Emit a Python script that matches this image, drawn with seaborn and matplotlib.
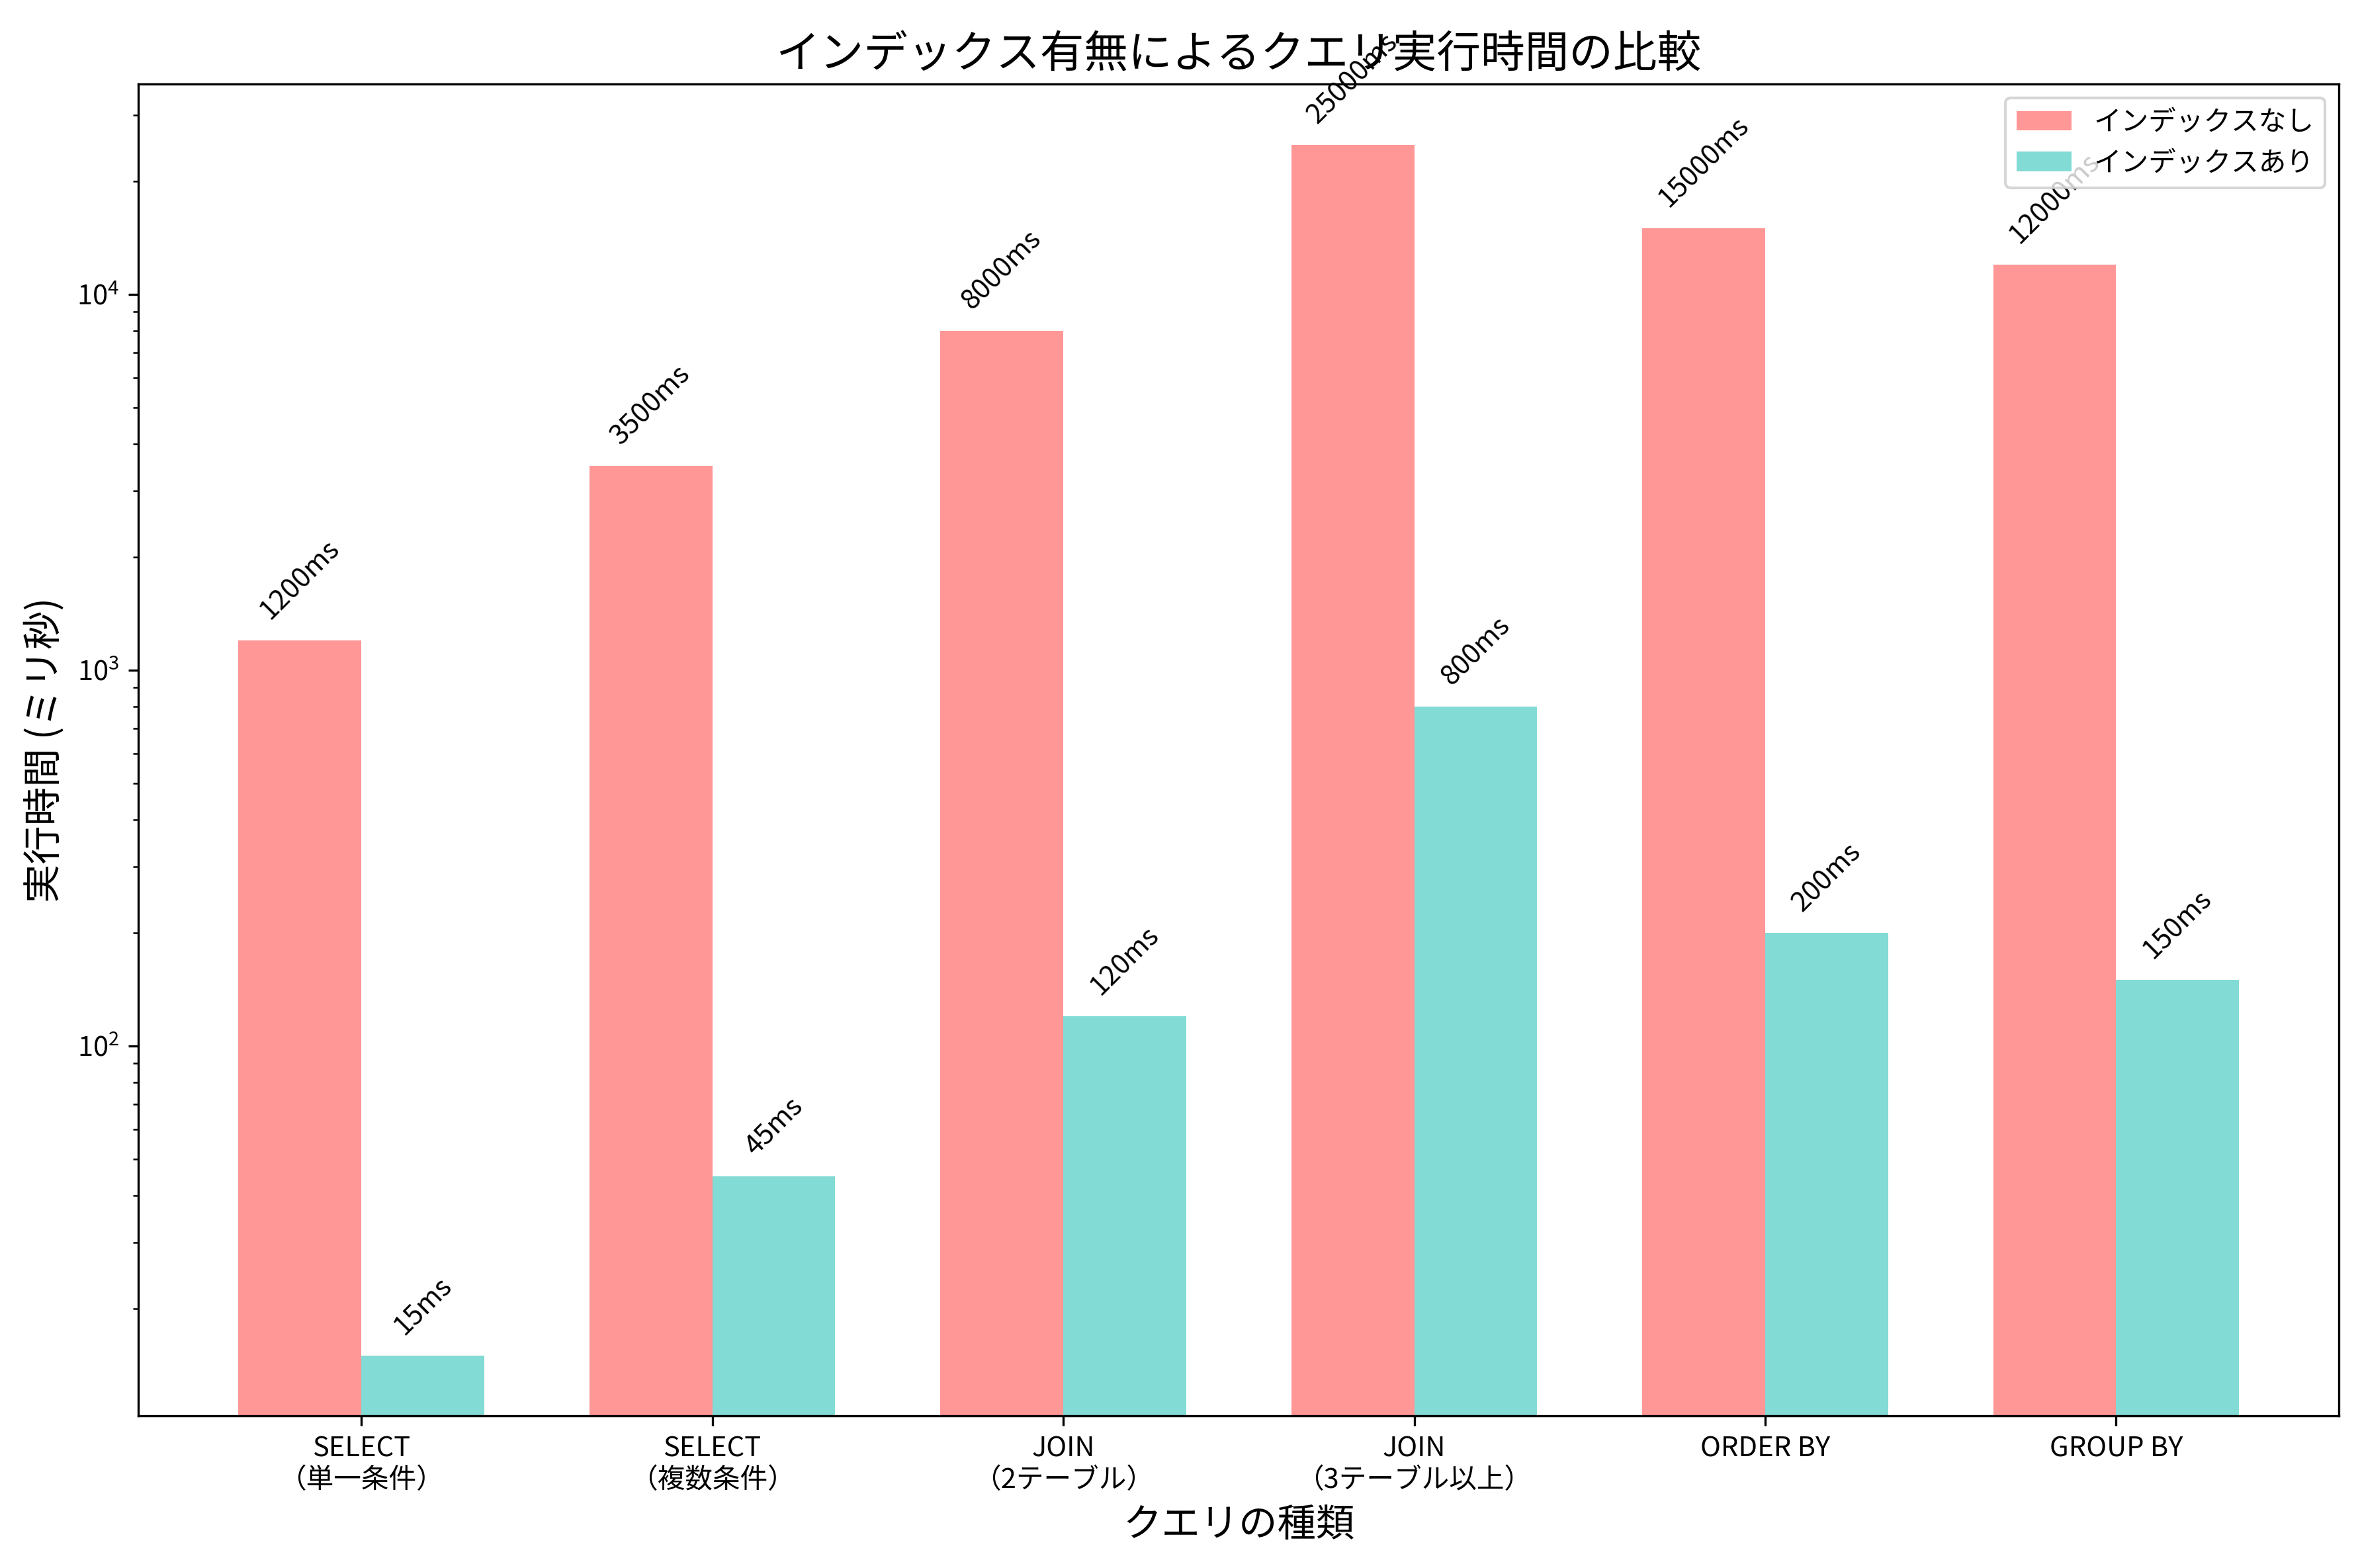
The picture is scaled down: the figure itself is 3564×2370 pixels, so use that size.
import matplotlib
matplotlib.use("Agg")
import matplotlib.pyplot as plt
import seaborn as sns
import pandas as pd

plt.rcParams['font.family'] = ['Noto Sans CJK JP', 'DejaVu Sans']

categories = ["SELECT\n（単一条件）", "SELECT\n（複数条件）", "JOIN\n（2テーブル）",
              "JOIN\n（3テーブル以上）", "ORDER BY", "GROUP BY"]
no_index = [1200, 3500, 8000, 25000, 15000, 12000]
with_index = [15, 45, 120, 800, 200, 150]
series_names = ["インデックスなし", "インデックスあり"]
colors = ["#FF6B6B", "#4ECDC4"]

df = pd.DataFrame({
    "query": categories * 2,
    "time": no_index + with_index,
    "index": [series_names[0]] * len(categories) + [series_names[1]] * len(categories),
})

fig, ax = plt.subplots(figsize=(11.883, 7.9), dpi=300)
fig.subplots_adjust(left=0.0587, right=0.9917, top=0.9463, bottom=0.0969)

sns.barplot(data=df, x="query", y="time", hue="index", hue_order=series_names,
            palette=colors, saturation=1, alpha=0.7, width=0.7, gap=0,
            errorbar=None, ax=ax, linewidth=0)
ax.set_yscale("log")

# restore matplotlib's default autoscaled margins on the categorical axis
ax.set_autoscalex_on(True)
ax.margins(x=0.05)
ax.relim()
ax.autoscale_view()

for cont in ax.containers:
    for bar in cont:
        h = bar.get_height()
        ax.text(bar.get_x() + bar.get_width() / 2, h * 1.1, f"{int(round(h))}ms",
                ha="center", va="bottom", rotation=45, fontsize=10)

ax.set_title("インデックス有無によるクエリ実行時間の比較", fontsize=16)
ax.set_xlabel("クエリの種類", fontsize=14)
ax.set_ylabel("実行時間 (ミリ秒)", fontsize=14)

handles, labels = ax.get_legend_handles_labels()
ax.legend(handles, labels, loc="upper right", fontsize=10)

fig.savefig("out.png", dpi=300)
